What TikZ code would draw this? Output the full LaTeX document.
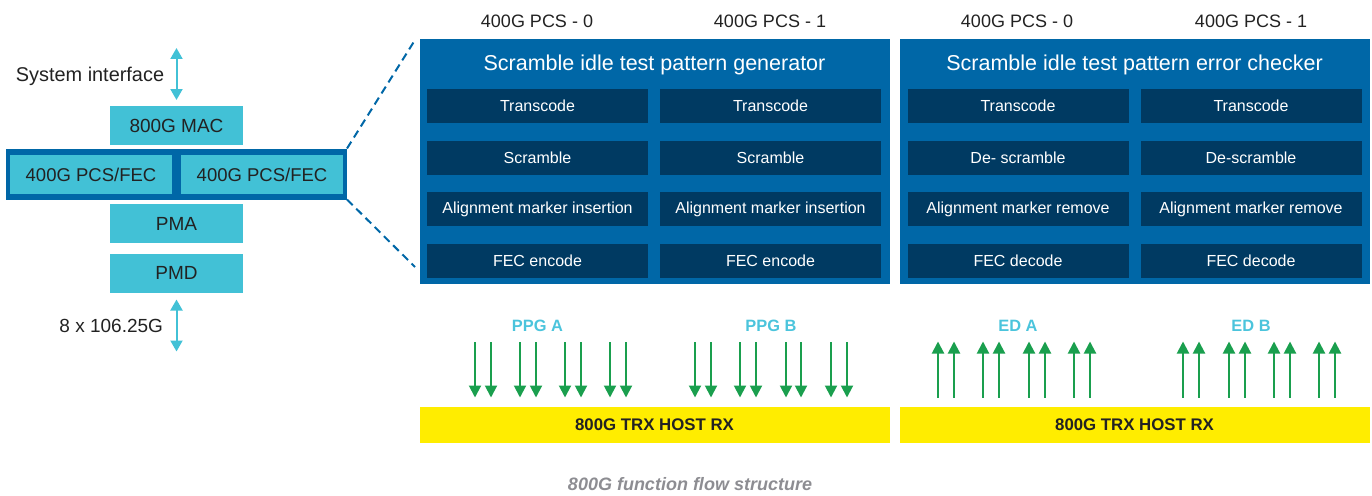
\documentclass[tikz,border=0pt]{standalone}
\usepackage{fontspec}
\setmainfont{Liberation Sans}
\usetikzlibrary{arrows.meta}
\definecolor{cyanfill}{HTML}{42C1D6}
\definecolor{panelblue}{HTML}{0067A7}
\definecolor{navy}{HTML}{003A62}
\definecolor{hostyellow}{HTML}{FFED00}
\definecolor{flowgreen}{HTML}{1A9F4E}
\definecolor{labelcyan}{HTML}{4BC4DC}
\definecolor{inktext}{HTML}{222222}
\definecolor{captiongray}{HTML}{8D8D92}
\tikzset{
  x=1pt, y=-1pt,
  every node/.style={inner sep=0pt, outer sep=0pt, text=inktext},
  cyanbox/.style={fill=cyanfill, minimum width=133pt, minimum height=39pt, font=\fontsize{19}{22}\selectfont},
  pcsbox/.style={fill=cyanfill, minimum width=162pt, minimum height=39pt, font=\fontsize{18.5}{22}\selectfont},
  panel/.style={fill=panelblue, minimum width=470pt, minimum height=245pt},
  paneltitle/.style={text=white, font=\fontsize{21.5}{25}\selectfont},
  stepbox/.style={fill=navy, text=white, minimum width=221pt, minimum height=34pt, font=\fontsize{16}{19}\selectfont},
  header/.style={font=\fontsize{18}{21}\selectfont},
  hostbar/.style={fill=hostyellow, minimum width=470pt, minimum height=36pt, font=\bfseries\fontsize{16.8}{20}\selectfont},
  grouplabel/.style={text=labelcyan, font=\bfseries\fontsize{16.4}{19}\selectfont},
  sysarrow/.style={draw=cyanfill, line width=2pt, {Triangle[width=12pt,length=11pt]}-{Triangle[width=12pt,length=11pt]}},
  lane/.style={draw=flowgreen, line width=2pt, -{Triangle[width=12pt,length=12pt]}},
  zoomline/.style={draw=panelblue, line width=2pt, dash pattern=on 8pt off 5pt},
}
\begin{document}
\begin{tikzpicture}
\useasboundingbox (0,0) rectangle (1372,495);

% ---- protocol stack ----
\node (sys) at (90,76) {\fontsize{19.9}{23}\selectfont System interface};
\coordinate (systop) at (176.5,48);
\coordinate (sysbot) at (176.5,100);
\draw[sysarrow] (systop) -- (sysbot);

\node[cyanbox] (mac) at (176.5,125.5) {800G MAC};
\node[fill=panelblue, minimum width=341pt, minimum height=51pt] (strip) at (176.5,174) {};
\node[pcsbox] (pcsA) at (91,174.5) {400G PCS/FEC};
\node[pcsbox] (pcsB) at (262,174.5) {400G PCS/FEC};
\node[cyanbox] (pma) at (176.5,223.5) {PMA};
\node[cyanbox] (pmd) at (176.5,273) {PMD};

\coordinate (lanetop) at (176.5,299.5);
\coordinate (lanebot) at (176.5,351.5);
\draw[sysarrow] (lanetop) -- (lanebot);
\node[anchor=east] (rate) at (163,325.5) {\fontsize{19}{22}\selectfont 8 x 106.25G};

% ---- generator panel ----
\node[panel] (gen) at (654.5,161.5) {};
\node[paneltitle] (genT) at (654.5,64.5) {Scramble idle test pattern generator};
\node[header] (hg0) at (537,21) {400G PCS - 0};
\node[header] (hg1) at (770,21) {400G PCS - 1};
\foreach \cx/\c in {537.5/a, 770.5/b}{
  \node[stepbox] (g\c1) at (\cx,106) {Transcode};
  \node[stepbox] (g\c2) at (\cx,157.5) {Scramble};
  \node[stepbox] (g\c3) at (\cx,209) {Alignment marker insertion};
  \node[stepbox] (g\c4) at (\cx,260.5) {FEC encode};
}

% ---- checker panel ----
\node[panel] (chk) at (1134.5,161.5) {};
\node[paneltitle] (chkT) at (1134.5,64.5) {Scramble idle test pattern error checker};
\node[header] (hc0) at (1017,21) {400G PCS - 0};
\node[header] (hc1) at (1251,21) {400G PCS - 1};
\node[stepbox] (ca1) at (1018,106) {Transcode};
\node[stepbox] (ca2) at (1018,157.5) {De- scramble};
\node[stepbox] (ca3) at (1018,209) {Alignment marker remove};
\node[stepbox] (ca4) at (1018,260.5) {FEC decode};
\node[stepbox] (cb1) at (1251,106) {Transcode};
\node[stepbox] (cb2) at (1251,157.5) {De-scramble};
\node[stepbox] (cb3) at (1251,209) {Alignment marker remove};
\node[stepbox] (cb4) at (1251,260.5) {FEC decode};

% ---- zoom lines from the PCS strip to the generator ----
\coordinate (zt) at (415,40);
\coordinate (zb) at (415,267);
\draw[zoomline] (strip.north east) -- (zt);
\draw[zoomline] (strip.south east) -- (zb);

% ---- host bars ----
\node[hostbar] (hostL) at (654.5,425) {800G TRX HOST RX};
\node[hostbar] (hostR) at (1134.5,425) {800G TRX HOST RX};

% ---- pattern generators: lanes into the host ----
\node[grouplabel] (ppgA) at (537.5,325.5) {PPG A};
\node[grouplabel] (ppgB) at (771,325.5) {PPG B};
\foreach \lx [count=\i] in {475,491,520,536,565,581,610,626,695,711,740,756,786,801,831,847}{
  \coordinate (pt\i) at (\lx,342);
  \coordinate (pb\i) at (\lx,397.5);
  \draw[lane] (pt\i) -- (pb\i);
}

% ---- error detectors: lanes out of the host ----
\node[grouplabel] (edA) at (1018,325.5) {ED A};
\node[grouplabel] (edB) at (1251,325.5) {ED B};
\foreach \lx [count=\i] in {938,954,983,999,1029,1045,1074,1090,1183,1199,1229,1245,1274,1290,1319,1335}{
  \coordinate (eb\i) at (\lx,397.5);
  \coordinate (et\i) at (\lx,341.5);
  \draw[lane] (eb\i) -- (et\i);
}

% ---- caption ----
\node[text=captiongray, font=\bfseries\itshape\fontsize{18}{21}\selectfont] (cap) at (690,484) {800G function flow structure};
\end{tikzpicture}
\end{document}
